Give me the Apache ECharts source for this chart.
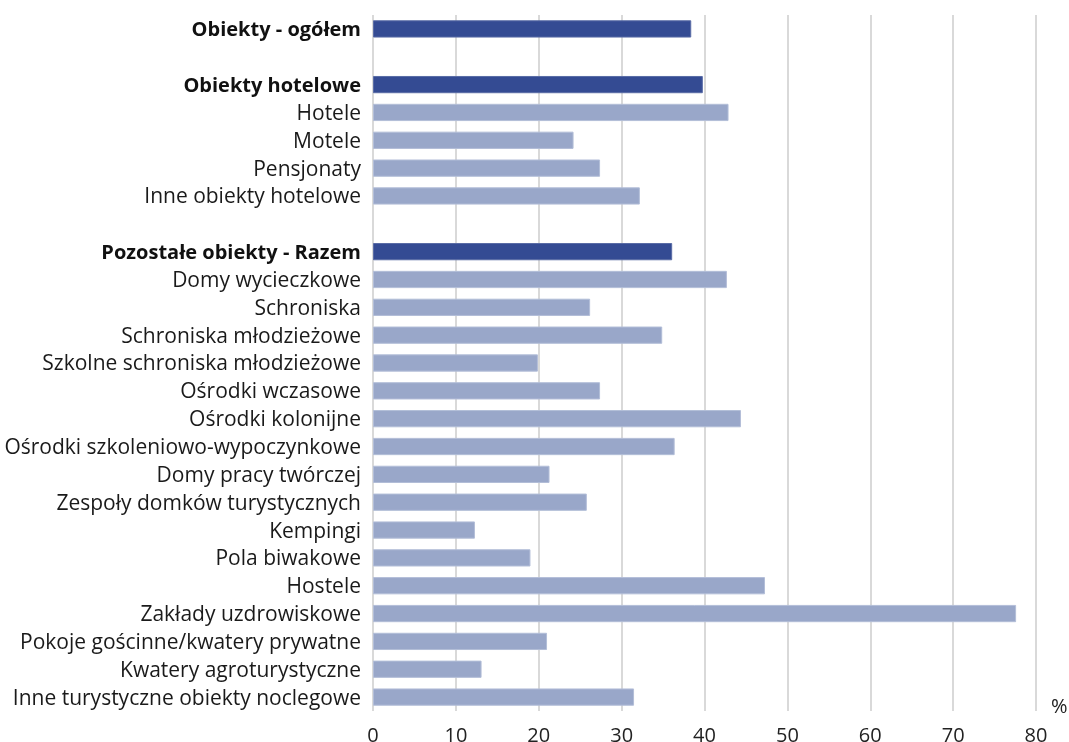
<!DOCTYPE html>
<html><head><meta charset="utf-8">
<script src="https://cdn.jsdelivr.net/npm/echarts@6/dist/echarts.min.js"></script>
<style>html,body{margin:0;padding:0;background:#fff}#c{width:1069px;height:742px}</style>
</head><body><div id="c"></div>
<script>
const categories = [
  'Obiekty - ogółem', '', 'Obiekty hotelowe', 'Hotele', 'Motele', 'Pensjonaty', 'Inne obiekty hotelowe', '',
  'Pozostałe obiekty - Razem', 'Domy wycieczkowe', 'Schroniska', 'Schroniska młodzieżowe',
  'Szkolne schroniska młodzieżowe', 'Ośrodki wczasowe', 'Ośrodki kolonijne', 'Ośrodki szkoleniowo-wypoczynkowe',
  'Domy pracy twórczej', 'Zespoły domków turystycznych', 'Kempingi', 'Pola biwakowe', 'Hostele',
  'Zakłady uzdrowiskowe', 'Pokoje gościnne/kwatery prywatne', 'Kwatery agroturystyczne',
  'Inne turystyczne obiekty noclegowe'
];
const values = [38.4, null, 39.8, 42.9, 24.2, 27.4, 32.2, null,
  36.1, 42.7, 26.2, 34.9, 19.9, 27.4, 44.4, 36.4, 21.3, 25.8, 12.3, 19.0, 47.3, 77.6, 21.0, 13.1, 31.5];
const totals = ['Obiekty - ogółem', 'Obiekty hotelowe', 'Pozostałe obiekty - Razem'];
const xTicks = [0, 10, 20, 30, 40, 50, 60, 70, 80];

const FONT = 'Open Sans';
const chart = echarts.init(document.getElementById('c'));
chart.setOption({
  animation: false,
  grid: { left: 373, right: 33, top: 15, bottom: 31, containLabel: false, outerBoundsMode: 'none' },
  xAxis: {
    type: 'value', min: xTicks[0], max: xTicks[xTicks.length - 1], interval: 10,
    axisLine: { show: false }, axisTick: { show: false },
    axisLabel: { color: '#222', fontSize: 20, fontFamily: FONT, margin: 15 },
    splitLine: { show: true, lineStyle: { color: '#d9d9d9', width: 2 } }
  },
  yAxis: {
    type: 'category', inverse: true, data: categories,
    axisLine: { show: false }, axisTick: { show: false },
    axisLabel: {
      margin: 12, interval: 0,
      formatter: v => totals.includes(v) ? '{b|' + v + '}' : '{n|' + v + '}',
      rich: {
        b: { fontWeight: 'bold', fontSize: 20, color: '#111', fontFamily: FONT, padding: [3, 0, 0, 0] },
        n: { fontSize: 21, color: '#1a1a1a', fontFamily: FONT, padding: [3, 0, 0, 0] }
      }
    }
  },
  graphic: [{ type: 'text', left: 1051, top: 697, style: { text: '%', fontSize: 20, fill: '#222', fontFamily: FONT } }],
  series: [{
    type: 'bar', barCategoryGap: '38%',
    data: values.map((v, i) => ({
      value: v,
      itemStyle: {
        color: totals.includes(categories[i]) ? '#344b93' : '#99a7c9',
        borderColor: totals.includes(categories[i]) ? '#5a6ca6' : '#b3bed8', borderWidth: 1
      }
    }))
  }]
});
</script></body></html>
